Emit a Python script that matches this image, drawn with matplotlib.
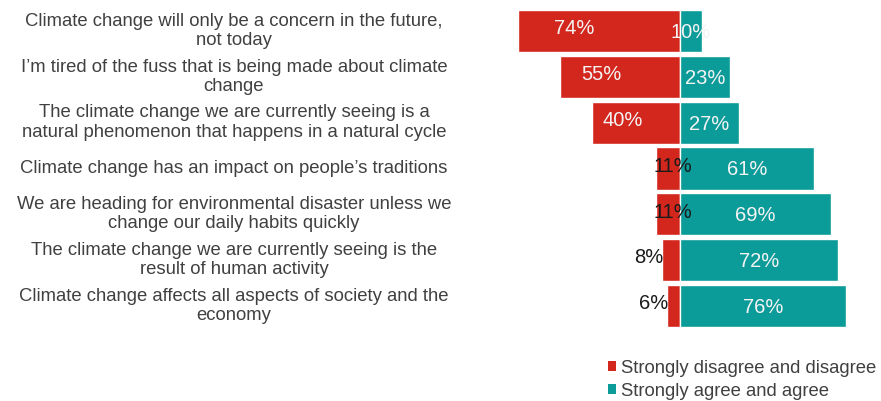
import matplotlib.pyplot as plt
import matplotlib.transforms as mtransforms
from matplotlib.patches import Patch

plt.rcParams['font.family'] = ['Liberation Sans', 'DejaVu Sans']

statements = [
    "Climate change will only be a concern in the future,\nnot today",
    "I\u2019m tired of the fuss that is being made about climate\nchange",
    "The climate change we are currently seeing is a\nnatural phenomenon that happens in a natural cycle",
    "Climate change has an impact on people\u2019s traditions",
    "We are heading for environmental disaster unless we\nchange our daily habits quickly",
    "The climate change we are currently seeing is the\nresult of human activity",
    "Climate change affects all aspects of society and the\neconomy",
]
disagree = [74, 55, 40, 11, 11, 8, 6]
agree = [10, 23, 27, 61, 69, 72, 76]

RED = '#D3261D'
TEAL = '#0B9B99'
GREY = '#404040'

fig = plt.figure(figsize=(8.81, 4.01), dpi=100)
ax = fig.add_axes([500 / 881, 61 / 401, 360 / 881, 340 / 401])

rows = list(range(len(statements)))
ax.barh(rows, [-v for v in disagree], height=0.92, color=RED,
        edgecolor='white', linewidth=1)
ax.barh(rows, agree, height=0.92, color=TEAL,
        edgecolor='white', linewidth=1)

ax.set_xlim(-82.2, 82.2)
ax.set_ylim(6.742, -0.676)
ax.axis('off')

for i, (d, a) in enumerate(zip(disagree, agree)):
    # value labels on the disagree side
    if d >= 30:
        ax.text(-0.65 * d, i - 0.05, f"{d}%", ha='center', va='center',
                color='#F4F4F4', fontsize=14.5)
    elif d >= 10:
        ax.text(-0.3 * d, i - 0.05, f"{d}%", ha='center', va='center',
                color='#1A1A1A', fontsize=14.5)
    else:
        ax.text(-d + 0.5, i - 0.05, f"{d}%", ha='right', va='center',
                color='#1A1A1A', fontsize=14.5)
    # value labels on the agree side
    ax.text(a / 2, i + 0.03, f"{a}%", ha='center', va='center',
            color='#F4F4F4', fontsize=14.5)

# statement text in a centred column left of the bars
trans = mtransforms.blended_transform_factory(fig.transFigure, ax.transData)
for i, s in enumerate(statements):
    ax.text(234 / 881, i, s, transform=trans, ha='center', va='center',
            multialignment='center', fontsize=13.3, color=GREY,
            linespacing=1.18)

handles = [Patch(facecolor=RED, edgecolor='none'),
           Patch(facecolor=TEAL, edgecolor='none')]
fig.legend(handles, ["Strongly disagree and disagree", "Strongly agree and agree"],
           loc='upper left', bbox_to_anchor=(608 / 881, 1 - 360 / 401),
           frameon=False, fontsize=13.3, labelcolor=GREY,
           handlelength=0.45, handleheight=0.45, handletextpad=0.25,
           labelspacing=0.3, borderpad=0, borderaxespad=0)

fig.savefig('out.png', dpi=100)
